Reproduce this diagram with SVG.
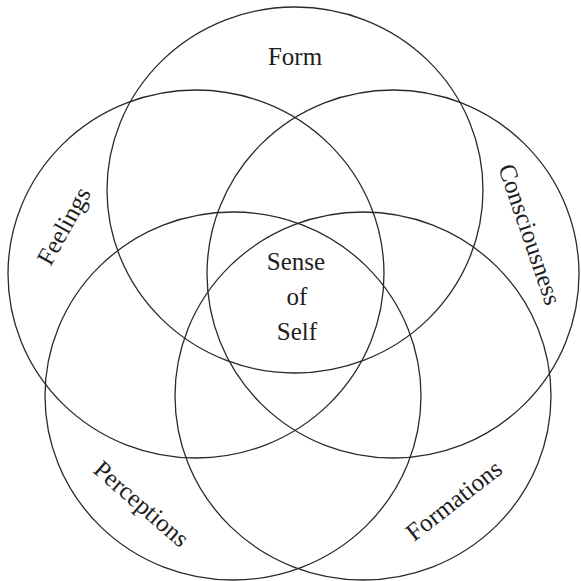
<svg xmlns="http://www.w3.org/2000/svg" width="581" height="581" viewBox="0 0 581 581">
<style>
.c{fill:none;stroke:#2a2a2a;stroke-width:1.3}
.t{font-family:"Liberation Serif","DejaVu Serif",serif;font-size:25px;fill:#1e1e1e;text-anchor:middle}
</style>
<rect width="581" height="581" fill="#fff"/>
<g id="form"><ellipse class="c" cx="295" cy="190" rx="188" ry="183"/><text class="t" x="295" y="65">Form</text></g>
<g id="feelings"><ellipse class="c" cx="196" cy="274" rx="188" ry="184"/><text class="t" transform="translate(71,230) rotate(-61)">Feelings</text></g>
<g id="consciousness"><ellipse class="c" cx="393" cy="274" rx="186" ry="184"/><text class="t" transform="translate(522,237) rotate(71)">Consciousness</text></g>
<g id="perceptions"><ellipse class="c" cx="233" cy="396" rx="188" ry="184"/><text class="t" transform="translate(136,510) rotate(41)">Perceptions</text></g>
<g id="formations"><ellipse class="c" cx="363" cy="396" rx="188" ry="184"/><text class="t" transform="translate(459,507) rotate(-38)">Formations</text></g>
<g id="self"><text class="t" x="296" y="270">Sense</text><text class="t" x="297" y="305">of</text><text class="t" x="297" y="340">Self</text></g>
</svg>
